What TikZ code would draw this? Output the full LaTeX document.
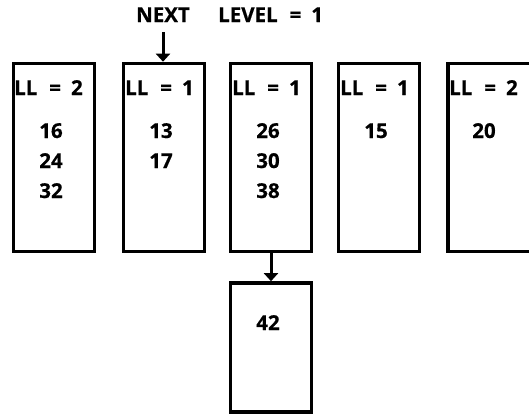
\documentclass[tikz,border=0pt]{standalone}
\usepackage{fontspec}
\setmainfont{Open Sans}[BoldFeatures={FakeBold=0.6}]
\usetikzlibrary{arrows.meta}
\newcommand{\eqsp}{\kern12pt=\kern10pt}
\begin{document}
\begin{tikzpicture}[x=1pt,y=-1pt,
  box/.style={draw=black,line width=3.6pt,rectangle,minimum width=81pt,minimum height=188pt,inner sep=0pt},
  lbl/.style={font=\fontsize{20.5}{24}\selectfont\bfseries,inner sep=0pt,anchor=base west},
  num/.style={font=\fontsize{20.5}{24}\selectfont\bfseries,inner sep=0pt,anchor=base},
  arr/.style={line width=3pt,-{Triangle[width=14pt,length=8pt]}}]
\useasboundingbox (0,0) rectangle (529,413);
\node[box] (b1) at (54,157.5) {};
\node[box] (b2) at (164,157.5) {};
\node[box] (b3) at (271,157.5) {};
\node[box] (b4) at (379,157.5) {};
\node[box,minimum width=90pt] (b5) at (493,157.5) {};
\node[box,minimum height=129pt] (b6) at (271,347.5) {};
% header
\node[num] (next) at (163,22) {NEXT};
\node[lbl] (level) at (218,22) {LEVEL\eqsp 1};
\coordinate (nexttail) at (163,32);
\draw[arr] (nexttail) -- (b2.north -| nexttail);
% LL labels
\node[lbl] (l1) at (14,95) {LL\eqsp 2};
\node[lbl] (l2) at (125,95) {LL\eqsp 1};
\node[lbl] (l3) at (232,95) {LL\eqsp 1};
\node[lbl] (l4) at (340,95) {LL\eqsp 1};
\node[lbl] (l5) at (449,95) {LL\eqsp 2};
% numbers
\node[num] (n16) at (51,138) {16};
\node[num] (n24) at (51,168) {24};
\node[num] (n32) at (51,198) {32};
\node[num] (n13) at (161,138) {13};
\node[num] (n17) at (161,168) {17};
\node[num] (n26) at (268,138) {26};
\node[num] (n30) at (268,168) {30};
\node[num] (n38) at (268,198) {38};
\node[num] (n15) at (376,138) {15};
\node[num] (n20) at (484,138) {20};
\node[num] (n42) at (268,330) {42};
\draw[arr] (b3.south) -- (b6.north);
\end{tikzpicture}
\end{document}
